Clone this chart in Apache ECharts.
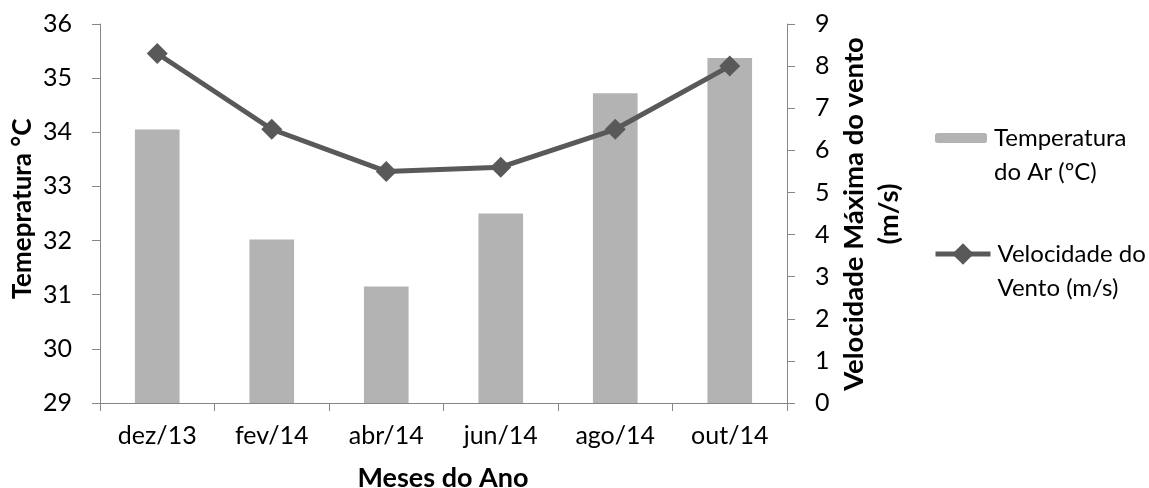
<!DOCTYPE html>
<html>
<head>
<meta charset="utf-8">
<script src="https://cdn.jsdelivr.net/npm/echarts@6/dist/echarts.min.js"></script>
<style>
  html, body { margin: 0; padding: 0; background: #ffffff; }
  #chart { width: 1149px; height: 488px; }
</style>
</head>
<body>
<div id="chart"></div>
<script>
// Monthly observations
const months = ['dez/13', 'fev/14', 'abr/14', 'jun/14', 'ago/14', 'out/14'];
const airTemp = [34.05, 32.02, 31.15, 32.5, 34.72, 35.37];   // °C
const windSpeed = [8.3, 6.5, 5.5, 5.6, 6.5, 8.0];            // m/s

// Axis ranges
const tempAxis = { min: 29, max: 36, interval: 1 };
const windAxis = { min: 0, max: 9, interval: 1 };

// Labels
const tempName = 'Temperatura do Ar (ºC)';
const windName = 'Velocidade do Vento (m/s)';
const tempLegendText = 'Temperatura\ndo Ar (ºC)';
const windLegendText = 'Velocidade do\nVento (m/s)';
const leftTitle = 'Temepratura °C';
const rightTitle = 'Velocidade Máxima do vento\n(m/s)';
const bottomTitle = 'Meses do Ano';

const FONT = 'Lato, "Open Sans", sans-serif';
const FS = 25;
const LEGEND_FS = 24;
const AXIS_COLOR = '#868686';
const BAR_COLOR = '#b3b3b3';
const LINE_COLOR = '#595959';

const chart = echarts.init(document.getElementById('chart'), null, { renderer: 'canvas' });

const axisCommon = {
  axisLine: { show: true, lineStyle: { color: AXIS_COLOR, width: 1 } },
  axisTick: { show: true, length: 8, lineStyle: { color: AXIS_COLOR } },
  splitLine: { show: false },
  axisLabel: { color: '#000', fontFamily: FONT, fontSize: FS, margin: 28 }
};

const legendText = {
  color: '#000', fontFamily: FONT, fontSize: LEGEND_FS, lineHeight: 34, padding: [0, 0, 0, 2]
};

chart.setOption({
  animation: false,
  backgroundColor: '#ffffff',
  textStyle: { fontFamily: FONT },
  grid: { left: 100, right: 362, top: 24, bottom: 85, containLabel: false },
  legend: [
    {
      data: [tempName],
      orient: 'vertical',
      left: 935,
      top: 87,
      padding: 0,
      itemWidth: 52,
      itemHeight: 10,
      formatter: () => '\n' + tempLegendText,
      textStyle: legendText
    },
    {
      data: [windName],
      orient: 'vertical',
      left: 933,
      top: 203,
      padding: 0,
      itemWidth: 55,
      itemHeight: 27,
      lineStyle: { color: LINE_COLOR, width: 5 },
      itemStyle: { color: LINE_COLOR },
      formatter: () => '\n' + windLegendText,
      textStyle: legendText
    }
  ],
  xAxis: {
    type: 'category',
    data: months,
    boundaryGap: true,
    ...axisCommon,
    axisLabel: { ...axisCommon.axisLabel, margin: 20 }
  },
  yAxis: [
    {
      type: 'value',
      position: 'left',
      min: tempAxis.min,
      max: tempAxis.max,
      interval: tempAxis.interval,
      ...axisCommon
    },
    {
      type: 'value',
      position: 'right',
      min: windAxis.min,
      max: windAxis.max,
      interval: windAxis.interval,
      ...axisCommon
    }
  ],
  graphic: [
    {
      type: 'text',
      x: 23, y: 209,
      rotation: Math.PI / 2,
      style: {
        text: leftTitle, fill: '#000', font: 'bold 26px ' + FONT,
        align: 'center', verticalAlign: 'middle'
      }
    },
    {
      type: 'text',
      x: 872, y: 214,
      rotation: Math.PI / 2,
      style: {
        text: rightTitle, fill: '#000', font: 'bold 27.5px ' + FONT,
        lineHeight: 35, align: 'center', verticalAlign: 'middle'
      }
    },
    {
      type: 'text',
      x: 443, y: 478,
      style: {
        text: bottomTitle, fill: '#000', font: 'bold 27px ' + FONT,
        align: 'center', verticalAlign: 'middle'
      }
    }
  ],
  series: [
    {
      name: tempName,
      type: 'bar',
      yAxisIndex: 0,
      data: airTemp,
      barWidth: '39%',
      itemStyle: { color: BAR_COLOR }
    },
    {
      name: windName,
      type: 'line',
      yAxisIndex: 1,
      data: windSpeed,
      symbol: 'diamond',
      symbolSize: 21,
      lineStyle: { color: LINE_COLOR, width: 5 },
      itemStyle: { color: LINE_COLOR }
    }
  ]
});
</script>
</body>
</html>
